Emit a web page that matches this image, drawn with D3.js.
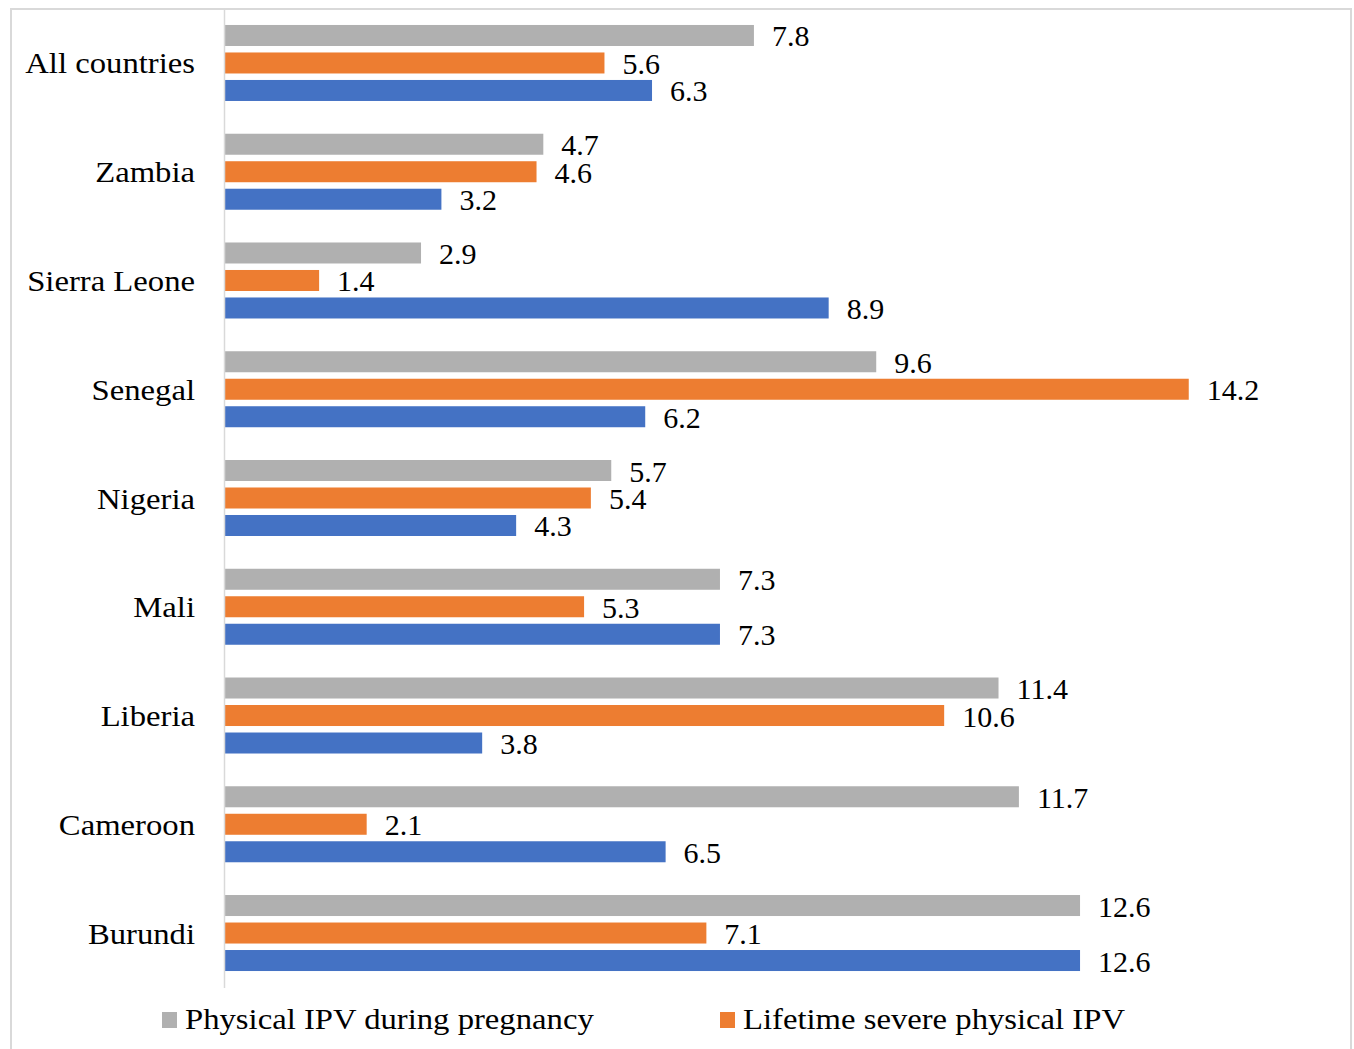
<!DOCTYPE html>
<html>
<head>
<meta charset="utf-8">
<script src="https://cdn.jsdelivr.net/npm/d3@7"></script>
<style>
  html, body { margin: 0; padding: 0; background: #fff; }
  svg { display: block; }
  text { font-family: "Liberation Serif", "Times New Roman", serif; fill: #000; }
</style>
</head>
<body>
<svg id="chart" width="1354" height="1049"></svg>
<script>
// ---- data ----
const categories = ["All countries", "Zambia", "Sierra Leone", "Senegal", "Nigeria", "Mali", "Liberia", "Cameroon", "Burundi"];
const pregnancyValues = [7.8, 4.7, 2.9, 9.6, 5.7, 7.3, 11.4, 11.7, 12.6];
const severeValues = [5.6, 4.6, 1.4, 14.2, 5.4, 5.3, 10.6, 2.1, 7.1];
const thirdValues = [6.3, 3.2, 8.9, 6.2, 4.3, 7.3, 3.8, 6.5, 12.6];
const seriesColors = ["#b0b0b0", "#ed7d31", "#4472c4"];
const legendNames = ["Physical IPV during pregnancy", "Lifetime severe physical IPV"];

const keys = ["s0", "s1", "s2"];
const rows = categories.map((c, i) => ({ cat: c, s0: pregnancyValues[i], s1: severeValues[i], s2: thirdValues[i] }));

const svg = d3.select("#chart");
const stretch = 1.09;

// frame
svg.append("rect").attr("x", 11).attr("y", 9).attr("width", 1340).attr("height", 1060)
  .attr("fill", "none").attr("stroke", "#d9d9d9").attr("stroke-width", 2);

const x = d3.scaleLinear().domain([0, 16]).range([224, 224 + 16 * 67.94]);
const y = d3.scaleBand().domain(categories).range([8.6, 987.4]).paddingInner(0).paddingOuter(0);
const ySub = d3.scaleBand().domain(keys).range([-38, 38]).paddingInner(0.236).paddingOuter(0);

// bars
const groups = svg.append("g").selectAll("g").data(rows).join("g")
  .attr("transform", d => `translate(0,${y(d.cat) + y.bandwidth() / 2})`);

groups.selectAll("rect").data(d => keys.map((k, j) => ({ k, j, v: d[k] }))).join("rect")
  .attr("x", x(0))
  .attr("y", d => ySub(d.k))
  .attr("width", d => x(d.v) - x(0))
  .attr("height", ySub.bandwidth())
  .attr("fill", d => seriesColors[d.j]);

groups.selectAll("text.val").data(d => keys.map((k, j) => ({ k, j, v: d[k] }))).join("text")
  .attr("class", "val")
  .attr("x", d => x(d.v) + 18)
  .attr("y", d => ySub(d.k) + ySub.bandwidth() / 2 + 11)
  .attr("font-size", 30)
  .text(d => d3.format(".1f")(d.v));

// axis
const axis = svg.append("g").attr("transform", `translate(${x(0)},0)`)
  .call(d3.axisLeft(y).tickSize(0).tickPadding(0));
axis.select(".domain").attr("stroke", "#d9d9d9").attr("stroke-width", 1.5);
axis.selectAll(".tick text")
  .attr("font-size", 30)
  .attr("fill", "#000")
  .attr("x", -29 / stretch)
  .attr("dy", 10.5)
  .attr("transform", `scale(${stretch},1)`);

// legend
const legendX = [162, 720];
const leg = svg.append("g").selectAll("g").data(legendNames).join("g")
  .attr("transform", (d, i) => `translate(${legendX[i]},1029)`);
leg.append("rect").attr("x", 0).attr("y", -17).attr("width", 15).attr("height", 16)
  .attr("fill", (d, i) => seriesColors[i]);
leg.append("text")
  .attr("y", 0)
  .attr("font-size", 30)
  .attr("transform", `scale(${stretch},1)`)
  .attr("x", 23 / stretch)
  .text(d => d);
</script>
</body>
</html>
